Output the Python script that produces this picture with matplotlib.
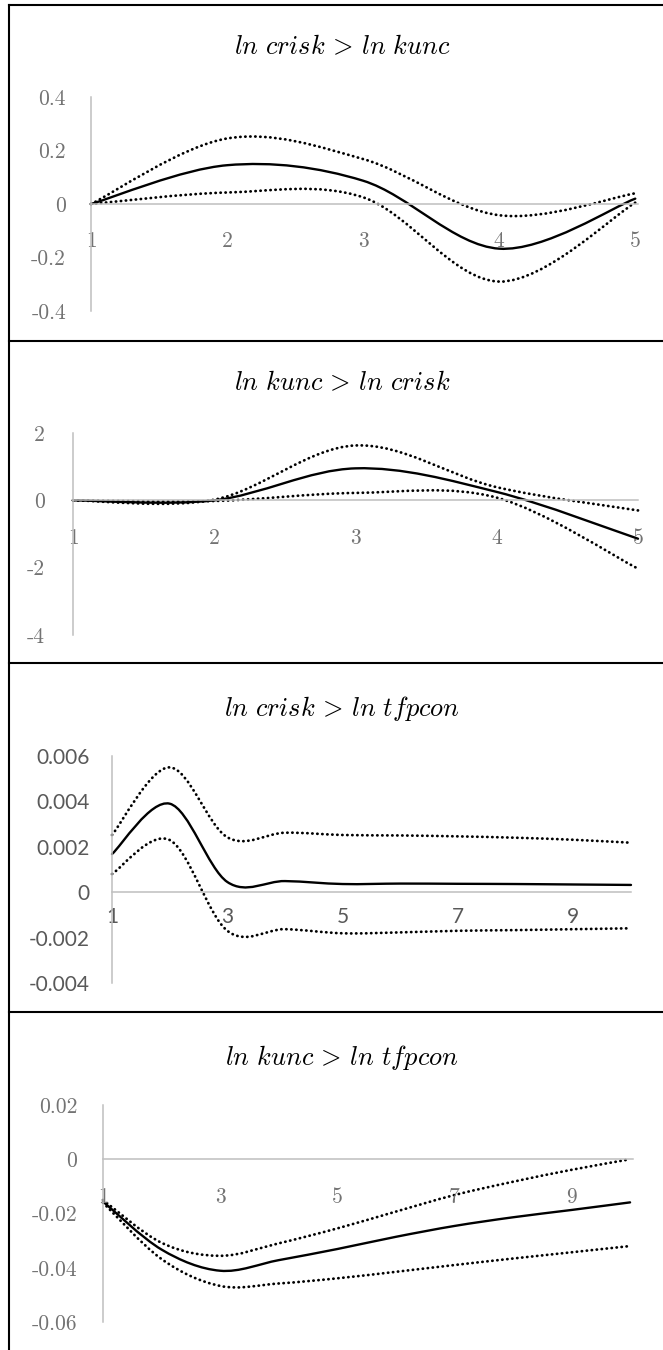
import numpy as np
import matplotlib
matplotlib.use("Agg")
import matplotlib.pyplot as plt
from matplotlib.path import Path
from matplotlib.patches import PathPatch
from matplotlib.lines import Line2D

plt.rcParams['mathtext.fontset'] = 'cm'

W, H = 663, 1350

# --- data ---
periods_5 = [1, 2, 3, 4, 5]
periods_10 = [1, 2, 3, 4, 5, 6, 7, 8, 9, 10]

crisk_kunc = [0, 0.145, 0.087, -0.167, 0.02]
crisk_kunc_hi = [0, 0.245, 0.168, -0.042, 0.04]
crisk_kunc_lo = [0, 0.043, 0.025, -0.29, 0.005]

kunc_crisk = [0, 0, 0.95, 0.25, -1.14]
kunc_crisk_hi = [0, 0.02, 1.63, 0.39, -0.3]
kunc_crisk_lo = [0, -0.02, 0.22, 0.08, -2.03]

crisk_tfp = [0.00168, 0.0039, 0.00045, 0.00049, 0.00036, 0.00038, 0.00037, 0.00036, 0.00034, 0.00032]
crisk_tfp_hi = [0.00252, 0.0055, 0.00242, 0.00262, 0.00252, 0.0025, 0.00246, 0.0024, 0.00231, 0.00218]
crisk_tfp_lo = [0.0008, 0.0023, -0.0017, -0.00163, -0.00181, -0.00177, -0.0017, -0.00167, -0.00163, -0.00159]

kunc_tfp = [-0.0156, -0.0333, -0.0411, -0.0372, -0.0331, -0.0286, -0.0246, -0.0214, -0.0187, -0.0159]
kunc_tfp_hi = [-0.015, -0.0308, -0.0356, -0.031, -0.0255, -0.0193, -0.0132, -0.0083, -0.0039, 0.0]
kunc_tfp_lo = [-0.016, -0.0368, -0.0467, -0.0458, -0.0439, -0.0415, -0.039, -0.0366, -0.0343, -0.032]

titles = [r'$ln\ crisk\, >\, ln\ kunc$', r'$ln\ kunc\, >\, ln\ crisk$',
          r'$ln\ crisk\, >\, ln\ tfpcon$', r'$ln\ kunc\, >\, ln\ tfpcon$']

yticks_1 = [-0.4, -0.2, 0, 0.2, 0.4]
yticks_2 = [-4, -2, 0, 2]
yticks_3 = [-0.004, -0.002, 0, 0.002, 0.004, 0.006]
yticks_4 = [-0.06, -0.04, -0.02, 0, 0.02]
ylabels_1 = ['-0.4', '-0.2', '0', '0.2', '0.4']
ylabels_2 = ['-4', '-2', '0', '2']
ylabels_3 = ['-0.004', '-0.002', '0', '0.002', '0.004', '0.006']
ylabels_4 = ['-0.06', '-0.04', '-0.02', '0', '0.02']
xticks_5 = [1, 2, 3, 4, 5]
xticks_10 = [1, 3, 5, 7, 9]


def excel_smooth(x, y):
    # bezier path through the points, like excel's "smoothed line"
    x = np.asarray(x, float)
    y = np.asarray(y, float)
    n = len(x)
    verts = [(x[0], y[0])]
    codes = [Path.MOVETO]
    for i in range(n - 1):
        p0 = np.array([x[max(i - 1, 0)], y[max(i - 1, 0)]])
        p1 = np.array([x[i], y[i]])
        p2 = np.array([x[i + 1], y[i + 1]])
        p3 = np.array([x[min(i + 2, n - 1)], y[min(i + 2, n - 1)]])
        c1 = p1 + (p2 - p0) / 6
        c2 = p2 - (p3 - p1) / 6
        verts += [tuple(c1), tuple(c2), tuple(p2)]
        codes += [Path.CURVE4] * 3
    return Path(verts, codes)


def px_axes(left, right, top, bottom):
    return fig.add_axes([left / W, 1 - bottom / H, (right - left) / W, (bottom - top) / H])


fig = plt.figure(figsize=(W / 100, H / 100), dpi=100)

panels = [
    # x, mid, hi, lo, rect(px), xlim, ylim, yticks, ylabels, xticks, font, size, color, ypad, xpad, title y
    (periods_5, crisk_kunc, crisk_kunc_hi, crisk_kunc_lo, (91, 638, 97, 311), (1, 5.02), (-0.4, 0.4),
     yticks_1, ylabels_1, xticks_5, 'cmr10', 15.5, '#737373', 18, 20, 47),
    (periods_5, kunc_crisk, kunc_crisk_hi, kunc_crisk_lo, (73, 638, 433, 635), (1, 5.0), (-4, 2),
     yticks_2, ylabels_2, xticks_5, 'cmr10', 15.5, '#737373', 20, 20, 383),
    (periods_10, crisk_tfp, crisk_tfp_hi, crisk_tfp_lo, (112, 631, 756, 983), (1, 10), (-0.004, 0.006),
     yticks_3, ylabels_3, xticks_10, 'Lato', 15, '#595959', 16, 11, 708),
    (periods_10, kunc_tfp, kunc_tfp_hi, kunc_tfp_lo, (103, 633, 1105, 1322), (1, 10.05), (-0.06, 0.02),
     yticks_4, ylabels_4, xticks_10, 'cmr10', 15.5, '#737373', 18.5, 20, 1057),
]

for k, (x, mid, hi, lo, rect, xlim, ylim, yt, yl, xt, font, fs, tcol, ypad, xpad, ty) in enumerate(panels):
    ax = px_axes(*rect)
    ax.set_xlim(*xlim)
    ax.set_ylim(*ylim)
    for sp in ['top', 'right']:
        ax.spines[sp].set_visible(False)
    ax.spines['bottom'].set_position(('data', 0))
    for sp in ['bottom', 'left']:
        ax.spines[sp].set_color('#bfbfbf')
        ax.spines[sp].set_linewidth(1.1)
    ax.set_yticks(yt)
    ax.set_yticklabels(yl, fontfamily=font, fontsize=fs, color=tcol)
    ax.set_xticks(xt)
    ax.set_xticklabels([str(v) for v in xt], fontfamily=font, fontsize=fs, color=tcol)
    ax.tick_params(axis='y', length=0, pad=ypad)
    ax.tick_params(axis='x', length=0, pad=xpad)
    ax.patch.set_alpha(0)

    for series, ls, lw in [(hi, (0, (0.1, 1.7)), 2.0), (lo, (0, (0.1, 1.7)), 2.0), (mid, '-', 1.7)]:
        patch = PathPatch(excel_smooth(x, series), fill=False, edgecolor='black',
                          linewidth=lw, linestyle=ls, clip_on=False)
        patch.set_capstyle('round')
        ax.add_patch(patch)

    fig.text(342 / W, 1 - ty / H, titles[k], ha='center', va='center', fontsize=19)

# table-cell borders around the panels
for yb in [5, 340.5, 663.5, 1012]:
    fig.add_artist(Line2D([9 / W, 1], [1 - yb / H, 1 - yb / H], color='black', lw=1.5))
fig.add_artist(Line2D([9 / W, 9 / W], [1 - 5 / H, 0], color='black', lw=1.5))

fig.savefig('out.png', dpi=100)
